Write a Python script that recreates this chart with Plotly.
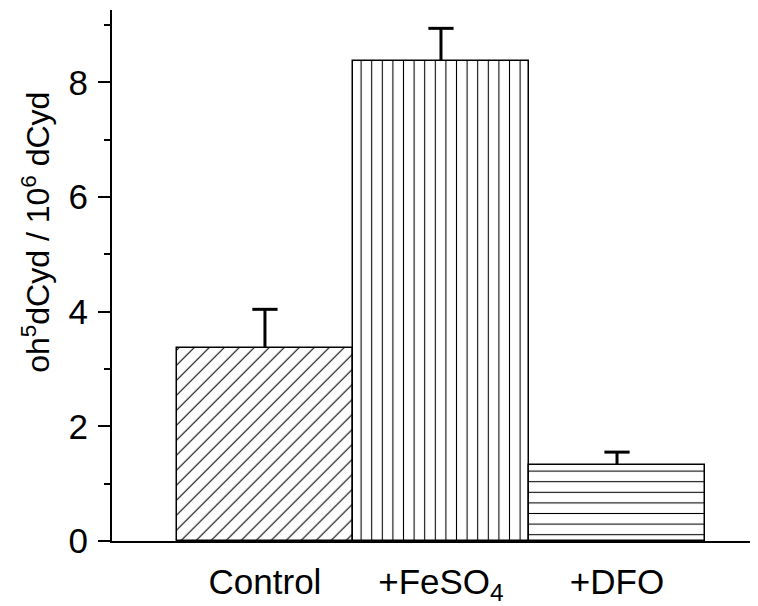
import plotly.graph_objects as go

categories = ["Control", "+FeSO<sub>4</sub>", "+DFO"]
values = [3.37, 8.37, 1.33]
errors = [0.67, 0.57, 0.22]
patterns = ["/", "|", "-"]
pattern_sizes = [10.6, 10.6, 10.6]
y_ticks = [0, 2, 4, 6, 8]

FONT = "Liberation Sans, Arial, sans-serif"
FS_TICK = 35
FS_TITLE = 32

fig = go.Figure()
fig.add_trace(go.Bar(
    x=categories,
    y=values,
    width=1.0,
    marker=dict(
        color="white",
        line=dict(color="black", width=1.5),
        pattern=dict(shape=patterns, size=pattern_sizes, solidity=0.1,
                     fgcolor="black", bgcolor="white", fillmode="replace"),
    ),
    error_y=dict(type="data", array=errors, arrayminus=[0, 0, 0], symmetric=False,
                 color="black", thickness=3, width=0),
    showlegend=False,
    hoverinfo="skip",
))
# error-bar caps (upper end only)
fig.add_trace(go.Scatter(
    x=categories,
    y=[v + e for v, e in zip(values, errors)],
    mode="markers",
    marker=dict(symbol="line-ew", size=18, line=dict(color="black", width=3)),
    showlegend=False,
    hoverinfo="skip",
))

fig.update_layout(
    width=758, height=606,
    margin=dict(l=104, r=8, t=2, b=73),
    paper_bgcolor="white", plot_bgcolor="white",
    font=dict(family=FONT, size=FS_TICK, color="black"),
    bargap=0,
    xaxis=dict(
        range=[-0.869, 2.801],
        showline=True, linecolor="black", linewidth=1.5,
        ticks="", showgrid=False, zeroline=False,
        ticklabelstandoff=9,
        tickfont=dict(size=FS_TICK),
    ),
    yaxis=dict(
        range=[0, 9.26],
        showline=True, linecolor="black", linewidth=2,
        ticks="outside", ticklen=12, tickwidth=1.5, tickcolor="black",
        tickvals=y_ticks, ticktext=[str(v) for v in y_ticks],
        showgrid=False, zeroline=False,
        ticklabelstandoff=3,
        tickfont=dict(size=FS_TICK),
        minor=dict(dtick=1, ticks="outside", ticklen=6, tickwidth=1.5, tickcolor="black", showgrid=False),
    ),
    annotations=[dict(
        text="oh<sup>5</sup>dCyd / 10<sup>6</sup> dCyd",
        xref="paper", yref="paper", x=-0.118, y=0.582,
        xanchor="center", yanchor="middle", textangle=-90,
        showarrow=False, font=dict(size=FS_TITLE, family=FONT),
    )],
)

fig.write_html("out.html")
